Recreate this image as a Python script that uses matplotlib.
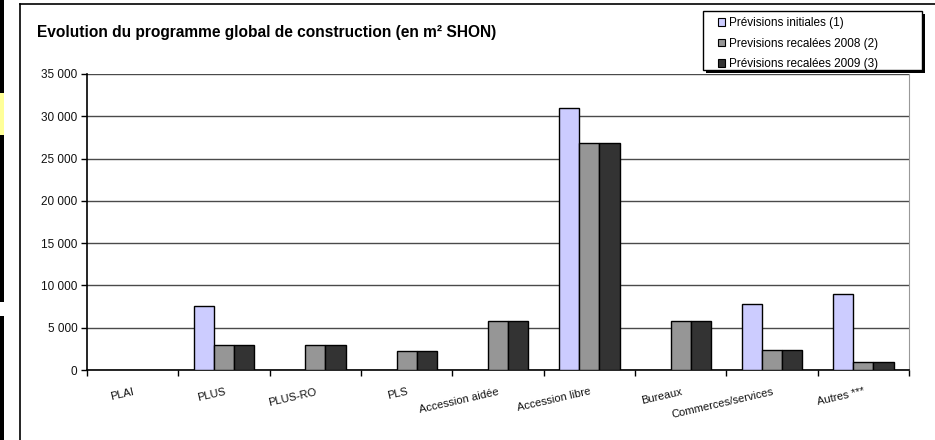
import matplotlib
matplotlib.use("Agg")
import matplotlib.pyplot as plt
import matplotlib.ticker as mticker
from matplotlib.patches import Rectangle, Patch
from matplotlib.lines import Line2D
import numpy as np

plt.rcParams['font.family'] = ['Liberation Sans', 'DejaVu Sans']

categories = ['PLAI', 'PLUS', 'PLUS-RO', 'PLS', 'Accession aidée',
              'Accession libre', 'Bureaux', 'Commerces/services', 'Autres ***']
initiales = [0, 7600, 0, 0, 0, 31000, 0, 7800, 9000]
recalees_2008 = [0, 2950, 2900, 2300, 5750, 26800, 5750, 2350, 1000]
recalees_2009 = [0, 2950, 2900, 2300, 5750, 26800, 5750, 2350, 1000]

series = [
    ('Prévisions initiales (1)', initiales, '#CCCCFF'),
    ('Previsions recalées 2008 (2)', recalees_2008, '#969696'),
    ('Prévisions recalées 2009 (3)', recalees_2009, '#333333'),
]

W, H = 935, 440
fig = plt.figure(figsize=(W / 100, H / 100), dpi=100)
ax = fig.add_axes([87 / W, 1 - 370 / H, (909 - 87) / W, (370 - 74) / H])

x = np.arange(len(categories))
bar_w = 1 / 4.5  # gap width 150%
for i, (name, vals, col) in enumerate(series):
    vals = np.array(vals, dtype=float)
    mask = vals > 0
    ax.bar(x[mask] + (i - 1) * bar_w, vals[mask], width=bar_w, color=col,
           edgecolor='black', linewidth=1.0, zorder=3)

ax.set_xlim(-0.5, len(categories) - 0.5)
ax.set_ylim(0, 35000)
ax.yaxis.set_major_locator(mticker.MultipleLocator(5000))
ax.yaxis.set_major_formatter(mticker.FuncFormatter(
    lambda v, p: f"{int(v):,}".replace(',', ' ')))
ax.grid(axis='y', color='#4a4a4a', linewidth=1.0, zorder=0)

# boundaries get tick marks, centers get the labels
ax.set_xticks(np.arange(len(categories) + 1) - 0.5)
ax.set_xticklabels([])
ax.set_xticks(x, minor=True)
ax.set_xticklabels(categories, minor=True, rotation=13, ha='right', va='top',
                   rotation_mode='anchor', fontsize=8, color='#111111')
ax.tick_params(axis='x', which='minor', length=0, pad=12)
ax.tick_params(axis='x', which='major', length=4, width=1, direction='out')
ax.tick_params(axis='y', length=4, width=1, direction='out', labelsize=8.5,
               labelcolor='#111111', pad=3)

ax.spines['top'].set_visible(False)
ax.spines['right'].set_color('#999999')
ax.spines['left'].set_linewidth(1.2)
ax.spines['bottom'].set_linewidth(1.2)

fig.text(37 / W, 1 - 32 / H,
         'Evolution du programme global de construction (en m² SHON)',
         fontsize=11.2, fontweight='bold', ha='left', va='center')

# outer chart frame
fig.add_artist(Line2D([20 / W, 20 / W], [0, 1 - 4 / H], color='black', lw=1.2))
fig.add_artist(Line2D([20 / W, 1], [1 - 4 / H, 1 - 4 / H], color='black', lw=1.2))

# strip on the left edge
fig.add_artist(Rectangle((0, 0), 4 / W, 1, transform=fig.transFigure,
                         color='black', lw=0))
fig.add_artist(Rectangle((0, 1 - 135 / H), 4 / W, 42 / H,
                         transform=fig.transFigure, color='#FFFF99', lw=0))
fig.add_artist(Rectangle((0, 1 - 316 / H), 4 / W, 14 / H,
                         transform=fig.transFigure, color='white', lw=0))

# legend box with hard shadow
lx0, ly0, lx1, ly1 = 703, 11, 922, 70
fig.add_artist(Rectangle((lx0 / W + 3 / W, 1 - ly1 / H - 3 / H),
                         (lx1 - lx0) / W, (ly1 - ly0) / H,
                         transform=fig.transFigure, color='black', lw=0))
fig.add_artist(Rectangle((lx0 / W, 1 - ly1 / H), (lx1 - lx0) / W, (ly1 - ly0) / H,
                         transform=fig.transFigure, facecolor='white',
                         edgecolor='black', lw=1))
handles = [Patch(facecolor=c, edgecolor='black', lw=0.8) for _, _, c in series]
fig.legend(handles, [s[0] for s in series], loc='upper left',
           bbox_to_anchor=(714 / W, 1 - 13 / H), frameon=False, fontsize=8.5,
           handlelength=0.6, handleheight=0.6, handletextpad=0.3,
           labelspacing=0.72, borderpad=0.35, borderaxespad=0)

fig.savefig('out.png', dpi=100)
